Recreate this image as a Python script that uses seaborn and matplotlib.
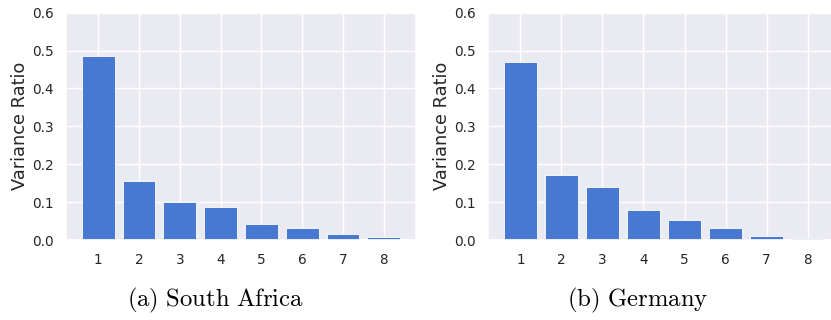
import pandas as pd
import matplotlib.pyplot as plt
import seaborn as sns

components = ['1', '2', '3', '4', '5', '6', '7', '8']
south_africa = [0.487, 0.155, 0.099, 0.088, 0.043, 0.032, 0.016, 0.008]
germany = [0.471, 0.172, 0.141, 0.079, 0.052, 0.032, 0.010, 0.006]
captions = ['(a) South Africa', '(b) Germany']

sns.set_theme(style='darkgrid')
plt.rcParams['mathtext.fontset'] = 'cm'

BAR_COLOR = sns.color_palette('muted')[0]


def plot_variance(ax, values):
    df = pd.DataFrame({'component': components, 'ratio': values})
    sns.barplot(data=df, x='component', y='ratio', color=BAR_COLOR,
                saturation=1, width=0.8, edgecolor='white', linewidth=0.6, ax=ax)
    ax.set_xlim(-0.79, len(components) - 1 + 0.79)
    ax.set_ylim(0, 0.6)
    ax.set_yticks([0.0, 0.1, 0.2, 0.3, 0.4, 0.5, 0.6])
    ax.set_yticklabels(['0.0', '0.1', '0.2', '0.3', '0.4', '0.5', '0.6'])
    ax.tick_params(labelsize=9.8, colors='#262626', length=0, pad=9)
    ax.set_xlabel('')
    ax.set_ylabel('Variance Ratio', fontsize=12.8, color='#262626', labelpad=2)
    ax.grid(True, axis='both', color='white', linewidth=1)


fig = plt.figure(figsize=(8.31, 3.2), dpi=100)
ax1 = fig.add_axes([66 / 831, 0.25, 350 / 831, 0.7103])
ax2 = fig.add_axes([488 / 831, 0.25, 352 / 831, 0.7103])

plot_variance(ax1, south_africa)
plot_variance(ax2, germany)

for x, text in zip([215 / 831, 638 / 831], captions):
    label = r'$\mathrm{' + text.replace(' ', r'\ ') + '}$'
    fig.text(x, 0.06, label, ha='center', va='center', fontsize=17.8, color='black')

fig.savefig('out.png', dpi=100)
